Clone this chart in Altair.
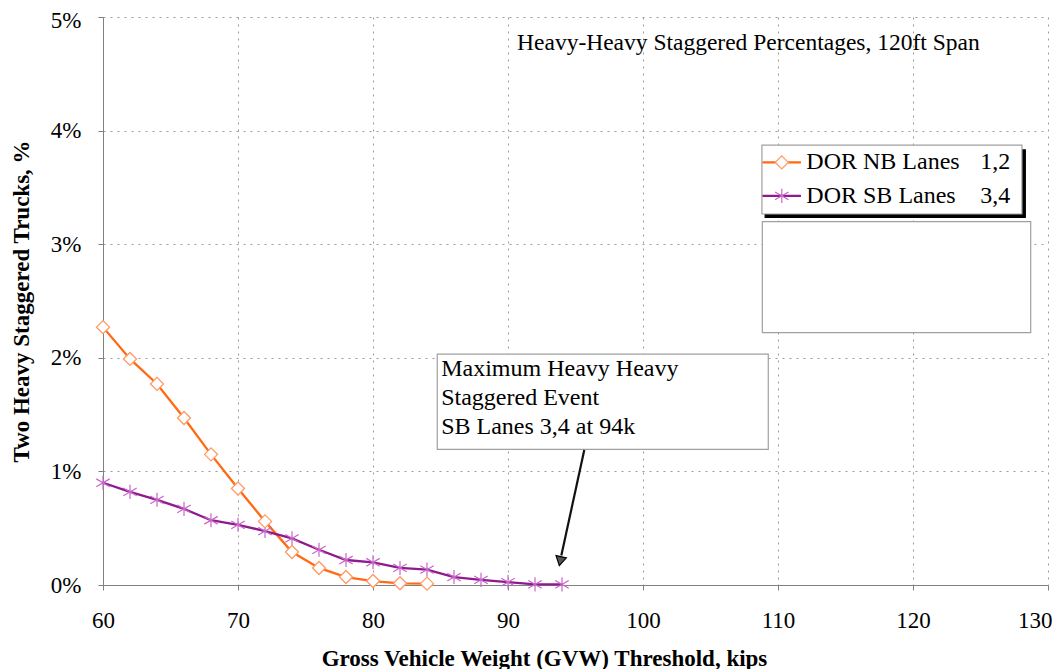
import altair as alt
import pandas as pd

# ---- data ----
gvw_nb = [60, 62, 64, 66, 68, 70, 72, 74, 76, 78, 80, 82, 84]
pct_nb = [2.27, 1.99, 1.77, 1.47, 1.15, 0.85, 0.56, 0.29, 0.15, 0.07, 0.035, 0.015, 0.012]

gvw_sb = [60, 62, 64, 66, 68, 70, 72, 74, 76, 78, 80, 82, 84, 86, 88, 90, 92, 94]
pct_sb = [0.90, 0.82, 0.75, 0.67, 0.57, 0.53, 0.475, 0.41, 0.31, 0.22, 0.20, 0.15, 0.135,
          0.07, 0.045, 0.025, 0.006, 0.006]

series_names = ["DOR NB Lanes", "DOR SB Lanes"]
series_lanes = ["1,2", "3,4"]
x_ticks = [60, 70, 80, 90, 100, 110, 120, 130]
y_ticks = [0, 0.01, 0.02, 0.03, 0.04, 0.05]

chart_title = "Heavy-Heavy Staggered Percentages, 120ft Span"
note_lines = ["Maximum Heavy Heavy", "Staggered Event", "SB Lanes 3,4 at 94k"]

FONT = "Liberation Serif"
ORANGE_LINE = "#FF6A13"
ORANGE_MARK = "#FF9A66"
PURPLE_LINE = "#8E1A8E"
PURPLE_MARK = "#C867C8"
STAR = "M0,-1L0,1M-0.95,-0.55L0.95,0.55M-0.95,0.55L0.95,-0.55"

nb = pd.DataFrame({"x": gvw_nb, "y": [v / 100 for v in pct_nb]})
sb = pd.DataFrame({"x": gvw_sb, "y": [v / 100 for v in pct_sb]})

xs = alt.Scale(domain=[60, 130], nice=False, zero=False)
ys = alt.Scale(domain=[0, 0.05], nice=False)

X = alt.X("x:Q", scale=xs, axis=alt.Axis(
    values=x_ticks, title="Gross Vehicle Weight (GVW) Threshold, kips",
    labelFont=FONT, labelFontSize=23, labelColor="#000", labelPadding=19, labelFlush=False,
    labelAlign=alt.expr("datum.value === 130 ? 'right' : 'center'"),
    labelOffset=alt.expr("datum.value === 130 ? 4 : 0"),
    tickColor="#808080", tickSize=5, domainColor="#808080",
    grid=True, gridColor="#9a9a9a", gridDash=[2, 5], gridWidth=1,
    titleFont=FONT, titleFontSize=23, titleFontWeight="bold", titleColor="#000",
    titleX=441, titleY=73, titleBaseline="middle"))
Y = alt.Y("y:Q", scale=ys, axis=alt.Axis(
    values=y_ticks, format=".0%", title="Two Heavy Staggered Trucks, %",
    labelFont=FONT, labelFontSize=23, labelColor="#000", labelPadding=17, labelFlush=False,
    labelOffset=alt.expr("datum.value >= 0.049 ? 3 : 0"),
    tickColor="#808080", tickSize=5, domainColor="#808080",
    grid=True, gridColor="#9a9a9a", gridDash=[2, 5], gridWidth=1,
    titleFont=FONT, titleFontSize=23, titleFontWeight="bold", titleColor="#000",
    titleX=-82, titleY=284, titleBaseline="middle"))

base_nb = alt.Chart(nb)
base_sb = alt.Chart(sb)

line_nb = base_nb.mark_line(color=ORANGE_LINE, strokeWidth=2.3).encode(x=X, y=Y)
pts_nb = base_nb.mark_point(shape="diamond", size=170, filled=True, fill="white",
                            stroke=ORANGE_MARK, strokeWidth=1.3, opacity=1).encode(x="x:Q", y="y:Q")
line_sb = base_sb.mark_line(color=PURPLE_LINE, strokeWidth=2.3).encode(x="x:Q", y="y:Q")
pts_sb = base_sb.mark_point(shape=STAR, size=200, filled=False,
                            stroke=PURPLE_MARK, strokeWidth=1.2, opacity=1).encode(x="x:Q", y="y:Q")

# ---- decorations placed in data units ----
boxes = pd.DataFrame({
    "x": [109.05, 108.81, 108.84, 84.76],
    "x2": [128.32, 128.07, 128.72, 109.28],
    "y": [0.03830, 0.03873, 0.03198, 0.02033],
    "y2": [0.03235, 0.03266, 0.02221, 0.01194],
    "fill": ["#000000", "#ffffff", "#ffffff", "#ffffff"],
    "stroke": ["#000000", "#a0a0a0", "#a0a0a0", "#a0a0a0"],
    "order": [0, 1, 2, 3],
})
box_layer = alt.Chart(boxes).mark_rect(strokeWidth=1.2).encode(
    x="x:Q", x2="x2:Q", y="y:Q", y2="y2:Q",
    fill=alt.Fill("fill:N", scale=None), stroke=alt.Stroke("stroke:N", scale=None),
    order="order:Q")

leg = pd.DataFrame({
    "name": series_names, "lanes": series_lanes,
    "x1": [108.85, 108.85], "x2": [111.7, 111.7], "xm": [110.28, 110.28],
    "y": [0.0372, 0.03425], "xt": [112.1, 112.1], "xl": [127.2, 127.2],
})
leg_nb = leg.iloc[[0]]
leg_sb = leg.iloc[[1]]
leg_line_nb = alt.Chart(leg_nb).mark_rule(color=ORANGE_LINE, strokeWidth=2.3).encode(x="x1:Q", x2="x2:Q", y="y:Q")
leg_line_sb = alt.Chart(leg_sb).mark_rule(color=PURPLE_LINE, strokeWidth=2.3).encode(x="x1:Q", x2="x2:Q", y="y:Q")
leg_pt_nb = alt.Chart(leg_nb).mark_point(shape="diamond", size=170, filled=True, fill="white",
                                         stroke=ORANGE_MARK, strokeWidth=1.3, opacity=1).encode(x="xm:Q", y="y:Q")
leg_pt_sb = alt.Chart(leg_sb).mark_point(shape=STAR, size=200, filled=False,
                                         stroke=PURPLE_MARK, strokeWidth=1.2, opacity=1).encode(x="xm:Q", y="y:Q")
leg_text = alt.Chart(leg).mark_text(font=FONT, fontSize=24, align="left", baseline="middle",
                                    color="#000").encode(x="xt:Q", y="y:Q", text="name:N")
leg_lanes = alt.Chart(leg).mark_text(font=FONT, fontSize=24, align="right", baseline="middle",
                                     color="#000").encode(x="xl:Q", y="y:Q", text="lanes:N")

title_df = pd.DataFrame({"x": [90.67], "y": [0.0477], "t": [chart_title]})
title_layer = alt.Chart(title_df).mark_text(font=FONT, fontSize=23.5, align="left", baseline="middle",
                                            color="#000").encode(x="x:Q", y="y:Q", text="t:N")

note_df = pd.DataFrame({"x": [85.05] * 3, "y": [0.01902, 0.01647, 0.01392], "t": note_lines})
note_layer = alt.Chart(note_df).mark_text(font=FONT, fontSize=24, align="left", baseline="middle",
                                          color="#000").encode(x="x:Q", y="y:Q", text="t:N")

arrow_df = pd.DataFrame({"x": [95.65], "y": [0.01188], "x2": [93.95], "y2": [0.0026]})
arrow_line = alt.Chart(arrow_df).mark_rule(color="#111", strokeWidth=2.2).encode(
    x="x:Q", y="y:Q", x2="x2:Q", y2="y2:Q")
head_df = pd.DataFrame({"x": [93.87], "y": [0.0021]})
arrow_head = alt.Chart(head_df).mark_point(shape="triangle-down", size=110, filled=True,
                                           fill="#555", stroke="#000", strokeWidth=1.2,
                                           angle=12, opacity=1).encode(x="x:Q", y="y:Q")

chart = alt.layer(
    line_nb, line_sb, pts_sb, pts_nb,
    box_layer, leg_line_nb, leg_line_sb, leg_pt_nb, leg_pt_sb, leg_text, leg_lanes,
    title_layer, note_layer, arrow_line, arrow_head,
).properties(
    width=945, height=568,
    autosize=alt.AutoSizeParams(type="none"),
    padding={"left": 95, "top": 9, "right": 4, "bottom": 84},
    background="white",
).configure_view(stroke=None)

chart.save("out.html", embed_options={"renderer": "svg", "actions": False})
